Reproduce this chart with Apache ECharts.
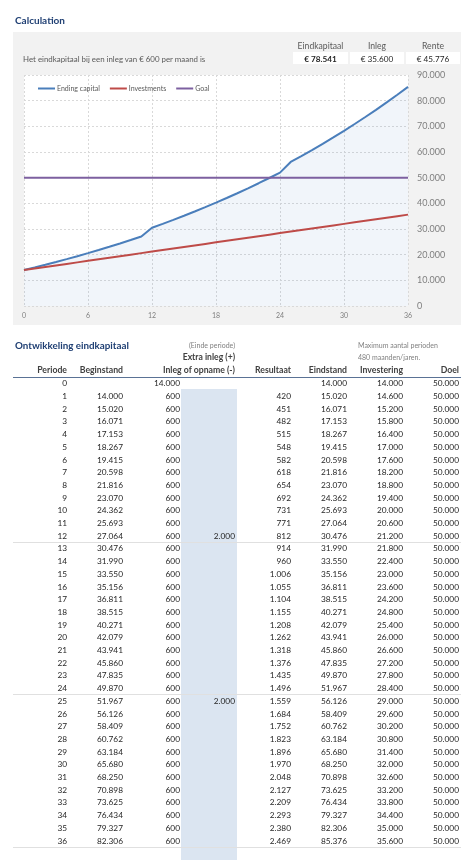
<!DOCTYPE html>
<html><head><meta charset="utf-8">
<script src="https://cdn.jsdelivr.net/npm/echarts@6/dist/echarts.min.js"></script>
<style>
html,body{margin:0;padding:0;background:#fff;width:474px;height:860px;overflow:hidden;font-family:Lato,"Liberation Sans",sans-serif;}
.abs{position:absolute;white-space:nowrap;}
</style></head>
<body>
<div class="abs" style="left:13px;top:32px;width:448px;height:293px;background:#f2f2f2;"></div>
<div class="abs" style="left:181px;top:389px;width:56px;height:471px;background:#dbe5f1;"></div>
<div id="chart" class="abs" style="left:0;top:0;width:474px;height:340px;"></div>
<div id="txt"></div>
<script>
// ---- data ----
const periods = [0,1,2,3,4,5,6,7,8,9,10,11,12,13,14,15,16,17,18,19,20,21,22,23,24,25,26,27,28,29,30,31,32,33,34,35,36];
const beginstand = [null,14000,15020,16071,17153,18267,19415,20598,21816,23070,24362,25693,27064,30476,31990,33550,35156,36811,38515,40271,42079,43941,45860,47835,49870,51967,56126,58409,60762,63184,65680,68250,70898,73625,76434,79327,82306];
const inleg = [14000,600,600,600,600,600,600,600,600,600,600,600,600,600,600,600,600,600,600,600,600,600,600,600,600,600,600,600,600,600,600,600,600,600,600,600,600];
const extraInleg = [null,null,null,null,null,null,null,null,null,null,null,null,2000,null,null,null,null,null,null,null,null,null,null,null,null,2000,null,null,null,null,null,null,null,null,null,null,null];
const resultaat = [null,420,451,482,515,548,582,618,654,692,731,771,812,914,960,1006,1055,1104,1155,1208,1262,1318,1376,1435,1496,1559,1684,1752,1823,1896,1970,2048,2127,2209,2293,2380,2469];
const eindstand = [14000,15020,16071,17153,18267,19415,20598,21816,23070,24362,25693,27064,30476,31990,33550,35156,36811,38515,40271,42079,43941,45860,47835,49870,51967,56126,58409,60762,63184,65680,68250,70898,73625,76434,79327,82306,85376];
const investering = [14000,14600,15200,15800,16400,17000,17600,18200,18800,19400,20000,20600,21200,21800,22400,23000,23600,24200,24800,25400,26000,26600,27200,27800,28400,29000,29600,30200,30800,31400,32000,32600,33200,33800,34400,35000,35600];
const doel = [50000,50000,50000,50000,50000,50000,50000,50000,50000,50000,50000,50000,50000,50000,50000,50000,50000,50000,50000,50000,50000,50000,50000,50000,50000,50000,50000,50000,50000,50000,50000,50000,50000,50000,50000,50000,50000];
const summaryLabels = ["Eindkapitaal","Inleg","Rente"];
const summaryValues = ["€ 78.541","€ 35.600","€ 45.776"];
const legendNames = ["Ending capital","Investments","Goal"];
const tableHeaders = ["Periode","Beginstand","Inleg of opname (-)","Resultaat","Eindstand","Investering","Doel"];

function fmt(n){ return n===null||n===undefined ? "" : String(n).replace(/\B(?=(\d{3})+(?!\d))/g,"."); }

// ---- chart ----
const chart = echarts.init(document.getElementById('chart'), null, {renderer:'canvas'});
const pairs = arr => periods.map((p,i)=>[p,arr[i]]);
chart.setOption({
  animation:false,
  textStyle:{fontFamily:'Lato, "Liberation Sans", sans-serif'},
  grid:{left:24,top:75,width:384,height:231,show:true,backgroundColor:'#ffffff',borderWidth:0},
  legend:{left:33,top:80,icon:'rect',itemWidth:17,itemHeight:2,itemGap:10,
    textStyle:{fontSize:7,color:'#595959',padding:[0,0,0,-3]},data:legendNames},
  xAxis:{type:'value',min:0,max:36,interval:6,
    axisLine:{show:false},axisTick:{show:false},
    axisLabel:{fontSize:7,color:'#7f7f7f',margin:6},
    splitLine:{show:true,lineStyle:{type:[2,2],color:'#d9d9d9',width:1}}},
  yAxis:{type:'value',position:'right',min:0,max:90000,interval:10000,
    axisLine:{show:false},axisTick:{show:false},
    axisLabel:{fontSize:9,color:'#7f7f7f',margin:9,formatter:v=>fmt(v)},
    splitLine:{show:true,lineStyle:{type:[2,2],color:'#d9d9d9',width:1}}},
  series:[
    {name:legendNames[0],type:'line',data:pairs(eindstand),showSymbol:false,
      itemStyle:{color:'#4a7ebb'},lineStyle:{color:'#4a7ebb',width:2},
      areaStyle:{color:'rgba(79,129,189,0.11)'}},
    {name:legendNames[1],type:'line',data:pairs(investering),showSymbol:false,
      itemStyle:{color:'#be4b48'},lineStyle:{color:'#be4b48',width:2}},
    {name:legendNames[2],type:'line',data:pairs(doel),showSymbol:false,
      itemStyle:{color:'#7d60a0'},lineStyle:{color:'#7d60a0',width:2}}
  ]
});

// ---- text / table ----
const T = document.getElementById('txt');
function put(text, x, y, opts){
  opts = opts||{};
  const d = document.createElement('div');
  d.className='abs';
  d.textContent = text;
  const fs = opts.fs||8.2;
  d.style.fontSize = fs+'px';
  d.style.lineHeight = '12px';
  d.style.top = (y-6)+'px';
  d.style.color = opts.color||'#262626';
  if(opts.bold) d.style.fontWeight='bold';
  if(opts.align==='right'){ d.style.right=(474-x)+'px'; }
  else if(opts.align==='center'){ d.style.left=(x-60)+'px'; d.style.width='120px'; d.style.textAlign='center'; }
  else { d.style.left = x+'px'; }
  T.appendChild(d);
}
function box(x,y,w,h,color){
  const d=document.createElement('div'); d.className='abs';
  d.style.left=x+'px'; d.style.top=y+'px'; d.style.width=w+'px'; d.style.height=h+'px'; d.style.background=color;
  T.appendChild(d);
}
put("Calculation",15,20,{fs:10,bold:true,color:'#1f3f73'});
put("Het eindkapitaal bij een inleg van € 600 per maand is",23,59,{fs:7.9,color:'#595959'});
const boxX=[293,350,406], boxW=[55,54,54];
for(let i=0;i<3;i++){
  box(boxX[i],52,boxW[i],12,'#ffffff');
  const c = boxX[i]+boxW[i]/2;
  put(summaryLabels[i],c,46,{align:'center',fs:8.6,color:'#595959'});
  put(summaryValues[i],c,58.5,{align:'center',fs:8.2,bold:i===0,color:'#262626'});
}
put("Ontwikkeling eindkapitaal",15,345,{fs:9.8,bold:true,color:'#1f3f73'});
put("(Einde periode)",235,345,{align:'right',fs:7,color:'#7f7f7f'});
put("Extra inleg (+)",235,357,{align:'right',fs:8.6,bold:true,color:'#404040'});
put("Maximum aantal perioden",358,345,{fs:7,color:'#7f7f7f'});
put("480 maanden/jaren.",358,357,{fs:7,color:'#7f7f7f'});
const colRight=[67,123,180,235,291,347,403,459];
const hdrRight=[67,123,235,291,347,403,459];
for(let i=0;i<tableHeaders.length;i++) put(tableHeaders[i],hdrRight[i],370,{align:'right',fs:8.7,bold:true,color:'#404040'});
box(13,376.5,448,1,'#5a7295');
const cols=[periods.map(String),beginstand.map(fmt),inleg.map(fmt),extraInleg.map(fmt),resultaat.map(fmt),eindstand.map(fmt),investering.map(fmt),doel.map(fmt)];
for(let r=0;r<periods.length;r++){
  const y=383.3+12.7*r;
  for(let c=0;c<cols.length;c++){
    const t=cols[c][r];
    if(t) put(t,colRight[c],y,{align:'right',fs:8.3,color:'#262626'});
  }
}
box(13,541.5,448,1,'#e0e0e0');
box(13,694,448,1,'#e0e0e0');
box(13,846.5,448,1,'#e0e0e0');
</script>
</body></html>
